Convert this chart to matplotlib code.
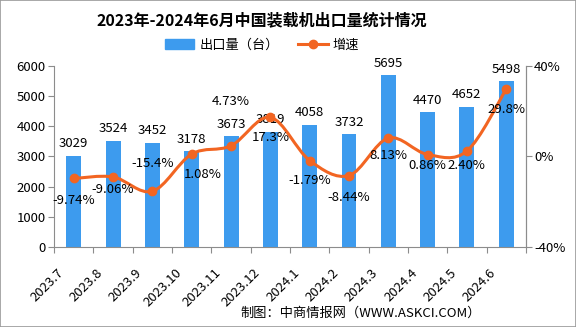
import matplotlib
matplotlib.use("Agg")
import matplotlib.pyplot as plt
from matplotlib.path import Path
from matplotlib.patches import PathPatch, Rectangle
from matplotlib.lines import Line2D
import numpy as np

plt.rcParams['font.family'] = ['Noto Sans CJK SC', 'DejaVu Sans']

months = ["2023.7", "2023.8", "2023.9", "2023.10", "2023.11", "2023.12",
          "2024.1", "2024.2", "2024.3", "2024.4", "2024.5", "2024.6"]
exports = [3029, 3524, 3452, 3178, 3673, 3819, 4058, 3732, 5695, 4470, 4652, 5498]
growth = [-9.74, -9.06, -15.4, 1.08, 4.73, 17.3, -1.79, -8.44, 8.13, 0.86, 2.40, 29.8]
growth_labels = ["-9.74%", "-9.06%", "-15.4%", "1.08%", "4.73%", "17.3%",
                 "-1.79%", "-8.44%", "8.13%", "0.86%", "2.40%", "29.8%"]

# label placement relative to each point (x in categories, y in % units)
lab_dx = [0, 0, 0, 0.28, 0, 0, 0, 0, 0, 0, 0, 0]
lab_dy = [-9.7, -5.7, 12.3, -9.2, 19.8, -8.8, -8.8, -9.7, -7.9, -4.8, -6.2, -9.2]

blue = "#3d9bee"
orange = "#f26522"
gray = "#8c8c8c"

fig = plt.figure(figsize=(5.76, 3.27), dpi=100)
fig.patches.append(Rectangle((0, 0), 1, 1, transform=fig.transFigure,
                             fill=False, edgecolor="#9a9a9a", lw=1.2))
ax = fig.add_axes([0.094, 0.245, 0.819, 0.553])
x = np.arange(len(months))
ax.bar(x, exports, width=0.38, color=blue, zorder=2)
ax.set_xlim(-0.5, len(months) - 0.5)
ax.set_ylim(0, 6000)
ax.set_yticks(range(0, 6001, 1000))
ax.tick_params(axis="y", labelsize=9.5, length=4, color=gray, pad=2)
ax.set_xticks(np.arange(-0.5, len(months), 1))
ax.set_xticklabels([])
ax.tick_params(axis="x", length=4, color=gray)
for i, m in enumerate(months):
    ax.text(i - 0.2, -650, m, rotation=45, ha="right", va="top", fontsize=9.5)
ax.spines["top"].set_visible(False)
for s in ["left", "bottom", "right"]:
    ax.spines[s].set_color(gray)
for i, v in enumerate(exports):
    ax.text(i, v + 180, str(v), ha="center", va="bottom", fontsize=9.5)

ax2 = ax.twinx()
ax2.set_ylim(-40, 40)
ax2.set_yticks([-40, 0, 40])
ax2.set_yticklabels(["-40%", "0%", "40%"])
ax2.tick_params(axis="y", labelsize=9.5, length=4, color=gray, pad=2)
for s in ["top", "left", "bottom"]:
    ax2.spines[s].set_visible(False)
ax2.spines["right"].set_color(gray)

# smooth curve through the growth points (Catmull-Rom -> cubic Bezier)
pts = np.column_stack([x, growth]).astype(float)
verts = [tuple(pts[0])]
codes = [Path.MOVETO]
for i in range(len(pts) - 1):
    p0 = pts[i - 1] if i > 0 else pts[i]
    p1, p2 = pts[i], pts[i + 1]
    p3 = pts[i + 2] if i + 2 < len(pts) else pts[i + 1]
    c1 = p1 + (p2 - p0) / 6
    c2 = p2 - (p3 - p1) / 6
    verts += [tuple(c1), tuple(c2), tuple(p2)]
    codes += [Path.CURVE4] * 3
ax2.add_patch(PathPatch(Path(verts, codes), fill=False, edgecolor=orange, lw=2.2, zorder=3))
ax2.plot(x, growth, "o", color=orange, ms=6, zorder=4)

for i, (g, lab) in enumerate(zip(growth, growth_labels)):
    ax2.text(i + lab_dx[i], g + lab_dy[i], lab, ha="center", va="center",
             fontsize=9.5, zorder=5)

fig.text(0.455, 0.937, "2023年-2024年6月中国装载机出口量统计情况", ha="center", va="center",
         fontsize=11.5, fontweight="bold")
handles = [Rectangle((0, 0), 1, 1, color=blue),
           Line2D([0], [0], color=orange, lw=2.2, marker="o", ms=6)]
fig.legend(handles, ["出口量（台）", "增速"], loc="center", bbox_to_anchor=(0.455, 0.862),
           ncol=2, frameon=False, fontsize=9.5, handlelength=2.2, columnspacing=1.5,
           handletextpad=0.4)
fig.text(0.835, 0.043, "制图：中商情报网（WWW.ASKCI.COM）", ha="right", va="center", fontsize=9.5)

fig.savefig("out.png", dpi=100)
